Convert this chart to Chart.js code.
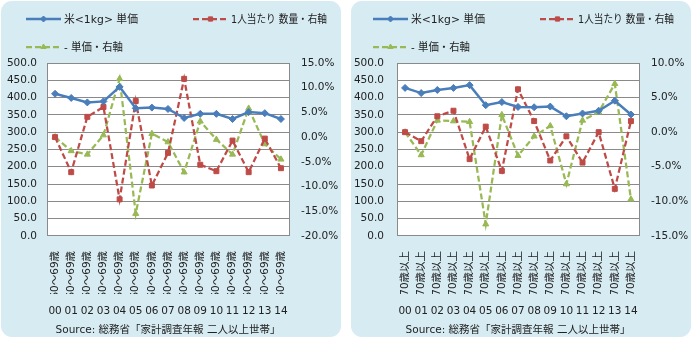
<!DOCTYPE html>
<html>
<head>
<meta charset="utf-8">
<script src="https://cdn.jsdelivr.net/npm/chart.js@4/dist/chart.umd.min.js"></script>
<style>
  body { margin: 0; width: 692px; height: 342px; background: #fff; position: relative; overflow: hidden; }
  .panel { position: absolute; top: 1px; width: 340px; height: 336px; border-radius: 11px; background: #d6ebf2; }
  #p1 { left: 1px; }
  #p2 { left: 351px; }
  canvas { display: block; }
</style>
</head>
<body>
<div class="panel" id="p1"><canvas id="c1" width="340" height="336"></canvas></div>
<div class="panel" id="p2"><canvas id="c2" width="340" height="336"></canvas></div>
<script>
// Data
const years = ['00', '01', '02', '03', '04', '05', '06', '07', '08', '09', '10', '11', '12', '13', '14'];
const ages60 = ['60～69歳', '60～69歳', '60～69歳', '60～69歳', '60～69歳', '60～69歳', '60～69歳', '60～69歳',
                '60～69歳', '60～69歳', '60～69歳', '60～69歳', '60～69歳', '60～69歳', '60～69歳'];
const ages70 = ['70歳以上', '70歳以上', '70歳以上', '70歳以上', '70歳以上', '70歳以上', '70歳以上', '70歳以上',
                '70歳以上', '70歳以上', '70歳以上', '70歳以上', '70歳以上', '70歳以上', '70歳以上'];
const seriesNames = ['米<1kg> 単価', '1人当たり 数量・右軸', '- 単価・右軸'];
const sourceText = 'Source: 総務省「家計調査年報 二人以上世帯」';

// 60-69
const price60 = [411, 399, 386, 389, 431, 369, 371, 367, 341, 353, 353, 338, 358, 355, 338];
const qty60 = [0.0, -7.1, 4.1, 6.1, -12.6, 7.3, -9.8, -3.2, 11.8, -5.6, -6.9, -0.7, -7.1, -0.3, -6.3];
const priceChg60 = [0.0, -2.8, -3.5, 0.4, 11.8, -15.5, 0.7, -1.0, -7.1, 3.2, -0.5, -3.5, 5.8, -1.4, -4.5];

// 70+
const price70 = [428, 413, 422, 428, 436, 378, 387, 373, 372, 374, 346, 354, 362, 391, 351];
const qty70 = [0.0, -1.3, 2.3, 3.1, -3.9, 0.8, -5.6, 6.2, 1.6, -4.1, -0.6, -4.4, 0.0, -8.2, 1.6];
const priceChg70 = [0.0, -3.3, 1.7, 1.6, 1.5, -13.3, 2.5, -3.4, -0.6, 0.9, -7.5, 1.7, 2.9, 7.0, -9.7];

// Axis ranges
const priceTicks = [0, 500, 50];
const pctTicks60 = [-20, 15, 5];
const pctTicks70 = [-15, 10, 5];

// Styles
const BLUE = '#4a7ebb';
const RED = '#be4b48';
const GREEN = '#98b954';
const GRID = '#8a8a8a';
const TEXT = '#222';
const FONT = "'DejaVu Sans', 'Noto Sans CJK JP', sans-serif";

// white plot area
const plotBg = {
    id: 'plotBg',
    beforeDraw(chart) {
        const a = chart.chartArea;
        chart.ctx.save();
        chart.ctx.fillStyle = '#fff';
        chart.ctx.fillRect(a.left, a.top, a.right - a.left, a.bottom - a.top);
        chart.ctx.restore();
    }
};

// legend with line + marker, placed like the original
const lineLegend = {
    id: 'lineLegend',
    afterDraw(chart, args, opts) {
        const ctx = chart.ctx;
        chart.data.datasets.forEach((ds, i) => {
            const p = opts.items[i];
            ctx.save();
            ctx.strokeStyle = ds.borderColor;
            ctx.lineWidth = ds.borderWidth;
            ctx.setLineDash(ds.borderDash || []);
            ctx.beginPath();
            ctx.moveTo(p.x, p.y);
            ctx.lineTo(p.x + 35, p.y);
            ctx.stroke();
            ctx.setLineDash([]);
            ctx.fillStyle = ds.backgroundColor;
            ctx.lineWidth = 1;
            Chart.helpers.drawPoint(ctx, { pointStyle: ds.pointStyle, radius: 3, borderWidth: 1, rotation: 0 }, p.x + 17.5, p.y);
            ctx.fillStyle = TEXT;
            ctx.font = '11px ' + FONT;
            ctx.textBaseline = 'middle';
            ctx.fillText(ds.label, p.x + 38, p.y + 1, p.w);
            ctx.restore();
        });
    }
};

function makeChart(id, ageLabels, price, qty, chg, pctTicks, lay) {
    const tickFont = { family: FONT, size: 10.5 };
    return new Chart(document.getElementById(id), {
        type: 'line',
        data: {
            labels: years,
            datasets: [
                { label: seriesNames[0], data: price, yAxisID: 'y', xAxisID: 'x',
                  borderColor: BLUE, backgroundColor: BLUE, borderWidth: 2.5,
                  pointStyle: 'rectRot', pointRadius: 3.5, pointBorderWidth: 1 },
                { label: seriesNames[1], data: qty, yAxisID: 'y2', xAxisID: 'x',
                  borderColor: RED, backgroundColor: RED, borderWidth: 2.25, borderDash: [6, 3],
                  pointStyle: 'rect', pointRadius: 3.5, pointBorderWidth: 1 },
                { label: seriesNames[2], data: chg, yAxisID: 'y2', xAxisID: 'x',
                  borderColor: GREEN, backgroundColor: GREEN, borderWidth: 2.25, borderDash: [6, 3],
                  pointStyle: 'triangle', pointRadius: 3.5, pointBorderWidth: 1 }
            ]
        },
        options: {
            responsive: false,
            animation: false,
            layout: { padding: { top: 62, left: 0, right: 0, bottom: 0 } },
            plugins: {
                legend: { display: false },
                tooltip: { enabled: false },
                title: {
                    display: true, position: 'bottom', fullSize: false, text: sourceText,
                    color: TEXT, font: { family: FONT, size: 10.5, weight: 'normal' },
                    padding: { top: 9.5, bottom: 0 }
                },
                lineLegend: { items: lay.legend }
            },
            scales: {
                x: {
                    type: 'category', labels: ageLabels, position: 'bottom', weight: 0, offset: true,
                    grid: { display: false }, border: { display: true, color: GRID, width: 1 },
                    ticks: { autoSkip: false, minRotation: 90, maxRotation: 90, padding: 7, color: TEXT, font: tickFont },
                    afterFit: s => { s.height = 58; }
                },
                x2: {
                    type: 'category', labels: years, position: 'bottom', weight: 1, offset: true,
                    grid: { display: false }, border: { display: false },
                    ticks: { autoSkip: false, maxRotation: 0, padding: 3, color: TEXT, font: tickFont },
                    afterFit: s => { s.height = 21; }
                },
                y: {
                    position: 'left', min: priceTicks[0], max: priceTicks[1],
                    ticks: { stepSize: priceTicks[2], padding: lay.yPad, color: TEXT, font: tickFont,
                             callback: v => v.toFixed(1) },
                    grid: { color: GRID, drawTicks: false },
                    border: { color: GRID },
                    afterFit: s => { s.width = 46; }
                },
                y2: {
                    position: 'right', min: pctTicks[0], max: pctTicks[1],
                    ticks: { stepSize: pctTicks[2], padding: 12, color: TEXT, font: tickFont,
                             callback: v => v.toFixed(1) + '%' },
                    grid: { display: false, drawTicks: false },
                    border: { display: true, color: GRID },
                    afterFit: s => { s.width = 52; }
                }
            }
        },
        plugins: [plotBg, lineLegend]
    });
}

makeChart('c1', ages60, price60, qty60, priceChg60, pctTicks60, {
    yPad: 10,
    legend: [{ x: 25, y: 18, w: 74 }, { x: 192, y: 18, w: 96 }, { x: 25, y: 46, w: 59 }]
});
makeChart('c2', ages70, price70, qty70, priceChg70, pctTicks70, {
    yPad: 13,
    legend: [{ x: 22, y: 18, w: 74 }, { x: 189, y: 18, w: 96 }, { x: 22, y: 46, w: 59 }]
});
</script>
</body>
</html>
